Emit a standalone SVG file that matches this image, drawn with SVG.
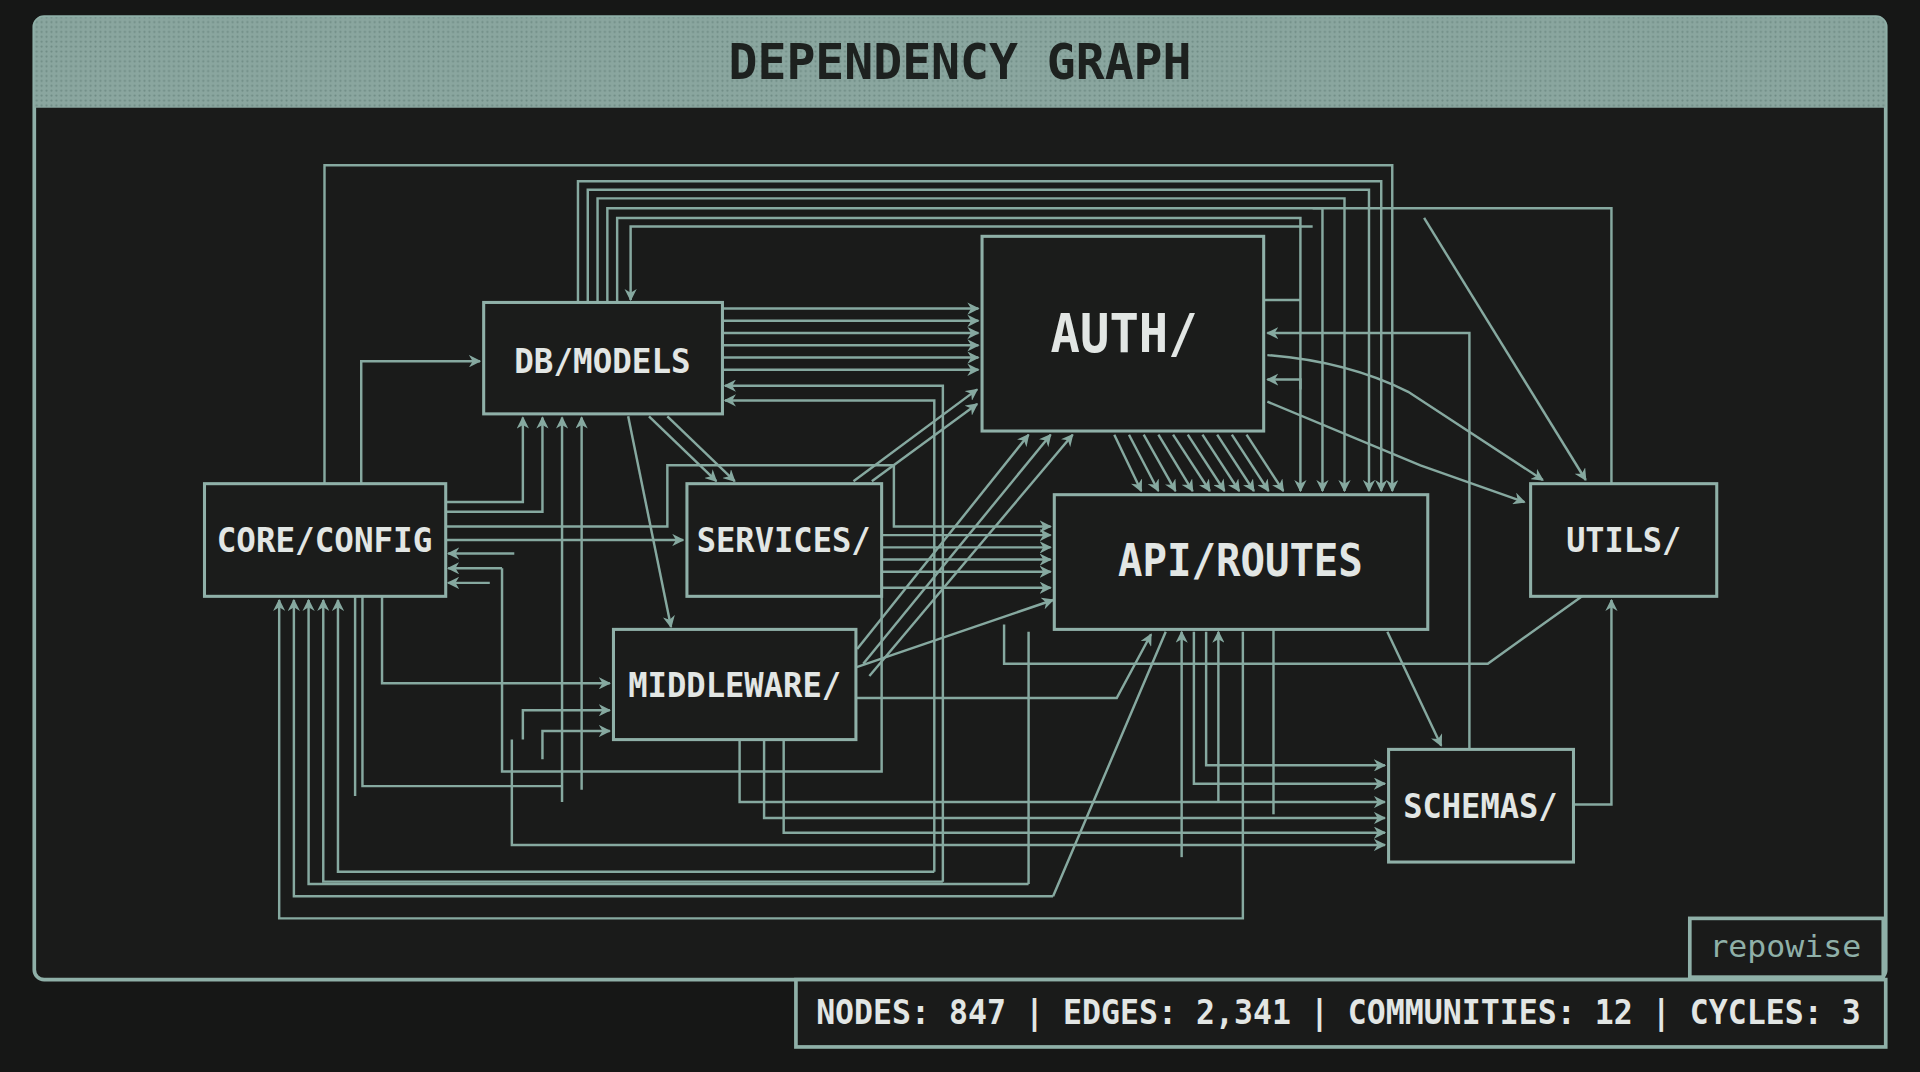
<svg xmlns="http://www.w3.org/2000/svg" width="1920" height="1072" viewBox="0 0 1920 1072">
<defs>
<marker id="ah" viewBox="0 0 10 10" refX="9" refY="5" markerWidth="10" markerHeight="10" orient="auto-start-reverse" markerUnits="userSpaceOnUse"><path d="M0,0 L10,5 L0,10 L3,5 z" fill="#86a9a0"/></marker>
<pattern id="dots" width="4" height="4" patternUnits="userSpaceOnUse"><rect width="4" height="4" fill="#8aa69f"/><circle cx="2" cy="2" r="0.9" fill="#6f8c85"/></pattern>
</defs>
<style>
.c{fill:none;stroke:#86a9a0;stroke-width:2}
.a{marker-end:url(#ah)}
.box{fill:#1b1c1b;stroke:#8fb0a8;stroke-width:2.5}
.lb{font-family:"DejaVu Sans Mono",monospace;font-weight:bold;fill:#e2e6e4;text-anchor:middle;dominant-baseline:central}
</style>
<rect width="1920" height="1072" fill="#161716"/>
<g transform="scale(1.2245)">
<g id="frame">
<rect x="28" y="14" width="1512" height="786" rx="8" fill="#1a1b1a" stroke="#8fb0a8" stroke-width="3"/>
<path d="M28,88 V22 Q28,14 36,14 H1532 Q1540,14 1540,22 V88 Z" fill="url(#dots)"/>
<text x="784" y="51" class="lb" style="fill:#1d211f;font-size:40px" textLength="378" lengthAdjust="spacingAndGlyphs">DEPENDENCY GRAPH</text>
</g>
<g id="connectors">
<path class="c a" d="M265,395 V135 H1137 V401"/>
<path class="c a" d="M472,247 V148 H1128 V401"/>
<path class="c a" d="M480,247 V155 H1118 V401"/>
<path class="c a" d="M488,247 V162 H1098 V401"/>
<path class="c a" d="M496,247 V170 H1080 V401"/>
<path class="c a" d="M504,247 V178 H1062 V401"/>
<path class="c a" d="M1072,185 H515 V245"/>
<path class="c a" d="M295,395 V295 H392"/>
<path class="c a" d="M590,252 H799"/>
<path class="c a" d="M590,262 H799"/>
<path class="c a" d="M590,272 H799"/>
<path class="c a" d="M590,282 H799"/>
<path class="c a" d="M590,292 H799"/>
<path class="c a" d="M590,302 H799"/>
<path class="c a" d="M770,720 V315 H592"/>
<path class="c a" d="M763,712 V327 H592"/>
<path class="c a" d="M364,410 H427 V341"/>
<path class="c a" d="M364,418 H443 V341"/>
<path class="c a" d="M459,655 V341"/>
<path class="c a" d="M475,645 V341"/>
<path class="c a" d="M530,340 L585,393"/>
<path class="c a" d="M545,340 L600,393"/>
<path class="c a" d="M513,340 L548,512"/>
<path class="c a" d="M364,441 H558"/>
<path class="c a" d="M364,430 H545 V380 H730 V430 H858"/>
<path class="c a" d="M1040,665 V500"/>
<path class="c a" d="M420,452 H366"/>
<path class="c a" d="M410,464 V630 H720 V480 H858"/>
<path class="c a" d="M410,464 H366"/>
<path class="c a" d="M400,476 H366"/>
<path class="c a" d="M312,487 V558 H498"/>
<path class="c a" d="M427,604 V580 H498"/>
<path class="c a" d="M443,620 V597 H498"/>
<path class="c a" d="M697,393 L798,318"/>
<path class="c a" d="M712,393 L798,330"/>
<path class="c a" d="M720,437 H858"/>
<path class="c a" d="M720,447 H858"/>
<path class="c a" d="M720,457 H858"/>
<path class="c a" d="M720,467 H858"/>
<path class="c a" d="M700,530 L840,355"/>
<path class="c a" d="M705,542 L858,355"/>
<path class="c a" d="M710,552 L876,355"/>
<path class="c a" d="M699,570 H912 L940,518"/>
<path class="c a" d="M699,545 L860,490"/>
<path class="c a" d="M910,355 L932,401"/>
<path class="c a" d="M922,355 L946,401"/>
<path class="c a" d="M934,355 L960,401"/>
<path class="c a" d="M946,355 L974,401"/>
<path class="c a" d="M958,355 L988,401"/>
<path class="c a" d="M970,355 L1000,401"/>
<path class="c a" d="M982,355 L1012,401"/>
<path class="c a" d="M994,355 L1024,401"/>
<path class="c a" d="M1006,355 L1036,401"/>
<path class="c a" d="M1018,355 L1048,401"/>
<path class="c" d="M1032,245 H1062"/>
<path class="c a" d="M1200,612 V272 H1035"/>
<path class="c a" d="M1035,290 Q1100,295 1150,320 L1260,392"/>
<path class="c a" d="M1035,328 L1160,380 L1245,410"/>
<path class="c a" d="M1062,318 V310 H1035"/>
<path class="c a" d="M1163,178 L1295,392"/>
<path class="c" d="M1316,395 V170 H1072"/>
<path class="c" d="M1292,487 L1215,542 H820 V510"/>
<path class="c a" d="M1285,657 H1316 V490"/>
<path class="c a" d="M1133,516 L1177,609"/>
<path class="c a" d="M985,516 V625 H1131"/>
<path class="c a" d="M975,516 V640 H1131"/>
<path class="c a" d="M604,604 V655 H1131"/>
<path class="c a" d="M624,604 V668 H1131"/>
<path class="c a" d="M418,604 V690 H1131"/>
<path class="c a" d="M640,604 V680 H1131"/>
<path class="c a" d="M1015,516 V750 H228 V490"/>
<path class="c a" d="M860,732 L952,516 M860,732 H240 V490"/>
<path class="c a" d="M840,722 V516 M840,722 H252 V490"/>
<path class="c a" d="M770,720 H264 V490"/>
<path class="c a" d="M763,712 H276 V490"/>
<path class="c a" d="M995,655 V516"/>
<path class="c a" d="M965,700 V516"/>
<path class="c" d="M296,487 V642 H459 M290,487 V650"/>
</g>
<g id="n-db"><rect class="box" x="395" y="247" width="195" height="91"/><text class="lb" x="492" y="295" style="font-size:27px" textLength="144" lengthAdjust="spacingAndGlyphs">DB/MODELS</text></g>
<g id="n-auth"><rect class="box" x="802" y="193" width="230" height="159"/><text class="lb" x="918" y="272" style="font-size:44px" textLength="120" lengthAdjust="spacingAndGlyphs">AUTH/</text></g>
<g id="n-core"><rect class="box" x="167" y="395" width="197" height="92"/><text class="lb" x="265" y="441" style="font-size:27px" textLength="176" lengthAdjust="spacingAndGlyphs">CORE/CONFIG</text></g>
<g id="n-services"><rect class="box" x="561" y="395" width="159" height="92"/><text class="lb" x="640" y="441" style="font-size:27px" textLength="142" lengthAdjust="spacingAndGlyphs">SERVICES/</text></g>
<g id="n-api"><rect class="box" x="861" y="404" width="305" height="110"/><text class="lb" x="1013" y="458" style="font-size:36px" textLength="200" lengthAdjust="spacingAndGlyphs">API/ROUTES</text></g>
<g id="n-utils"><rect class="box" x="1250" y="395" width="152" height="92"/><text class="lb" x="1326" y="441" style="font-size:27px" textLength="94" lengthAdjust="spacingAndGlyphs">UTILS/</text></g>
<g id="n-middleware"><rect class="box" x="501" y="514" width="198" height="90"/><text class="lb" x="600" y="560" style="font-size:27px" textLength="174" lengthAdjust="spacingAndGlyphs">MIDDLEWARE/</text></g>
<g id="n-schemas"><rect class="box" x="1134" y="612" width="151" height="92"/><text class="lb" x="1209" y="659" style="font-size:27px" textLength="126" lengthAdjust="spacingAndGlyphs">SCHEMAS/</text></g>
<g id="footer">
<rect x="1380" y="750" width="158" height="48" fill="#1a1b1a" stroke="#8fb0a8" stroke-width="3"/>
<text class="lb" x="1458" y="773" style="font-size:24px;font-weight:normal;fill:#8fb0a8" textLength="124" lengthAdjust="spacingAndGlyphs">repowise</text>
<rect x="650" y="800" width="890" height="55" fill="#1a1b1a" stroke="#8fb0a8" stroke-width="3"/>
<text class="lb" x="1093" y="827" style="font-size:27px" textLength="853" lengthAdjust="spacingAndGlyphs">NODES: 847 | EDGES: 2,341 | COMMUNITIES: 12 | CYCLES: 3</text>
</g>
</g>
</svg>
